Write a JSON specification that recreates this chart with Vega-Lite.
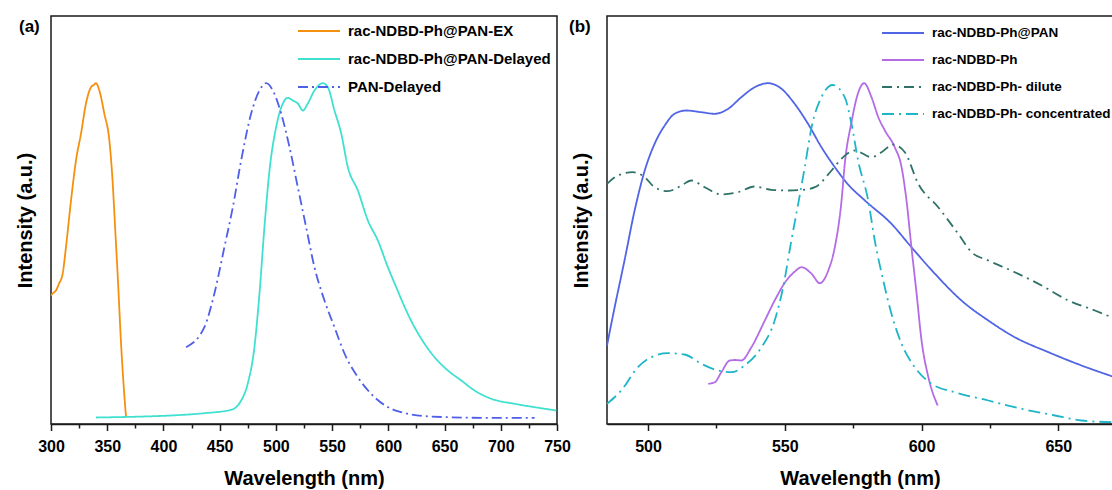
{
  "$schema": "https://vega.github.io/schema/vega-lite/v6.json",
  "padding": {"left": 14, "top": 15, "right": 0, "bottom": 0},
  "background": "white",
  "config": {
    "font": "Liberation Sans",
    "view": {"stroke": "#1a1a1a", "strokeWidth": 1.5},
    "axis": {
      "labelFont": "Liberation Sans", "labelFontWeight": "bold", "labelFontSize": 16, "labelColor": "#000",
      "titleFont": "Liberation Sans", "titleFontWeight": "bold", "titleFontSize": 20, "titleColor": "#000",
      "domainColor": "#1a1a1a", "domainWidth": 1.5, "tickColor": "#1a1a1a", "tickWidth": 1.5, "grid": false
    },
    "legend": {"labelFont": "Liberation Sans", "labelFontWeight": "bold", "labelFontSize": 15, "labelColor": "#000", "labelLimit": 0},
    "title": {"font": "Liberation Sans", "fontWeight": "bold", "fontSize": 17, "color": "#000"}
  },
  "datasets": {
    "a": [
      {"series": "rac-NDBD-Ph@PAN-EX", "wl": 300.0, "v": 128.5},
      {"series": "rac-NDBD-Ph@PAN-EX", "wl": 302.0, "v": 131},
      {"series": "rac-NDBD-Ph@PAN-EX", "wl": 304.4, "v": 133.5},
      {"series": "rac-NDBD-Ph@PAN-EX", "wl": 307.0, "v": 140},
      {"series": "rac-NDBD-Ph@PAN-EX", "wl": 310.4, "v": 150.5},
      {"series": "rac-NDBD-Ph@PAN-EX", "wl": 313.3, "v": 176.8},
      {"series": "rac-NDBD-Ph@PAN-EX", "wl": 317.8, "v": 223.5},
      {"series": "rac-NDBD-Ph@PAN-EX", "wl": 322.2, "v": 263.5},
      {"series": "rac-NDBD-Ph@PAN-EX", "wl": 326.7, "v": 290.5},
      {"series": "rac-NDBD-Ph@PAN-EX", "wl": 331.1, "v": 320.5},
      {"series": "rac-NDBD-Ph@PAN-EX", "wl": 335.6, "v": 336.8},
      {"series": "rac-NDBD-Ph@PAN-EX", "wl": 338.0, "v": 339},
      {"series": "rac-NDBD-Ph@PAN-EX", "wl": 340.0, "v": 340.8},
      {"series": "rac-NDBD-Ph@PAN-EX", "wl": 343.0, "v": 333.5},
      {"series": "rac-NDBD-Ph@PAN-EX", "wl": 347.4, "v": 310.5},
      {"series": "rac-NDBD-Ph@PAN-EX", "wl": 351.9, "v": 283.5},
      {"series": "rac-NDBD-Ph@PAN-EX", "wl": 354.9, "v": 240.5},
      {"series": "rac-NDBD-Ph@PAN-EX", "wl": 357.0, "v": 196.8},
      {"series": "rac-NDBD-Ph@PAN-EX", "wl": 359.4, "v": 146.8},
      {"series": "rac-NDBD-Ph@PAN-EX", "wl": 362.3, "v": 80.5},
      {"series": "rac-NDBD-Ph@PAN-EX", "wl": 364.7, "v": 36.8},
      {"series": "rac-NDBD-Ph@PAN-EX", "wl": 366.7, "v": 7.5},

      {"series": "rac-NDBD-Ph@PAN-Delayed", "wl": 340.0, "v": 6.5},
      {"series": "rac-NDBD-Ph@PAN-Delayed", "wl": 382.8, "v": 7.5},
      {"series": "rac-NDBD-Ph@PAN-Delayed", "wl": 406.8, "v": 8.5},
      {"series": "rac-NDBD-Ph@PAN-Delayed", "wl": 436.4, "v": 10.8},
      {"series": "rac-NDBD-Ph@PAN-Delayed", "wl": 460.2, "v": 14.2},
      {"series": "rac-NDBD-Ph@PAN-Delayed", "wl": 469.1, "v": 23.5},
      {"series": "rac-NDBD-Ph@PAN-Delayed", "wl": 475.0, "v": 40.5},
      {"series": "rac-NDBD-Ph@PAN-Delayed", "wl": 480.9, "v": 76.8},
      {"series": "rac-NDBD-Ph@PAN-Delayed", "wl": 485.4, "v": 130.5},
      {"series": "rac-NDBD-Ph@PAN-Delayed", "wl": 489.8, "v": 196.8},
      {"series": "rac-NDBD-Ph@PAN-Delayed", "wl": 494.3, "v": 253.5},
      {"series": "rac-NDBD-Ph@PAN-Delayed", "wl": 500.2, "v": 296.8},
      {"series": "rac-NDBD-Ph@PAN-Delayed", "wl": 506.2, "v": 320.5},
      {"series": "rac-NDBD-Ph@PAN-Delayed", "wl": 510.6, "v": 326.2},
      {"series": "rac-NDBD-Ph@PAN-Delayed", "wl": 515.1, "v": 323.5},
      {"series": "rac-NDBD-Ph@PAN-Delayed", "wl": 519.5, "v": 320.5},
      {"series": "rac-NDBD-Ph@PAN-Delayed", "wl": 524.0, "v": 313.5},
      {"series": "rac-NDBD-Ph@PAN-Delayed", "wl": 528.4, "v": 320.5},
      {"series": "rac-NDBD-Ph@PAN-Delayed", "wl": 534.3, "v": 333.5},
      {"series": "rac-NDBD-Ph@PAN-Delayed", "wl": 541.8, "v": 340.8},
      {"series": "rac-NDBD-Ph@PAN-Delayed", "wl": 546.2, "v": 336.8},
      {"series": "rac-NDBD-Ph@PAN-Delayed", "wl": 552.1, "v": 313.5},
      {"series": "rac-NDBD-Ph@PAN-Delayed", "wl": 558.1, "v": 290.5},
      {"series": "rac-NDBD-Ph@PAN-Delayed", "wl": 564.0, "v": 256.8},
      {"series": "rac-NDBD-Ph@PAN-Delayed", "wl": 572.9, "v": 233.5},
      {"series": "rac-NDBD-Ph@PAN-Delayed", "wl": 581.8, "v": 203.5},
      {"series": "rac-NDBD-Ph@PAN-Delayed", "wl": 590.7, "v": 183.5},
      {"series": "rac-NDBD-Ph@PAN-Delayed", "wl": 599.6, "v": 156.8},
      {"series": "rac-NDBD-Ph@PAN-Delayed", "wl": 607.0, "v": 136.8},
      {"series": "rac-NDBD-Ph@PAN-Delayed", "wl": 615.9, "v": 113.5},
      {"series": "rac-NDBD-Ph@PAN-Delayed", "wl": 623.3, "v": 96.8},
      {"series": "rac-NDBD-Ph@PAN-Delayed", "wl": 632.2, "v": 80.2},
      {"series": "rac-NDBD-Ph@PAN-Delayed", "wl": 641.1, "v": 66.8},
      {"series": "rac-NDBD-Ph@PAN-Delayed", "wl": 653.0, "v": 53.5},
      {"series": "rac-NDBD-Ph@PAN-Delayed", "wl": 664.9, "v": 43.5},
      {"series": "rac-NDBD-Ph@PAN-Delayed", "wl": 676.7, "v": 33.5},
      {"series": "rac-NDBD-Ph@PAN-Delayed", "wl": 691.6, "v": 25.2},
      {"series": "rac-NDBD-Ph@PAN-Delayed", "wl": 712.3, "v": 20.2},
      {"series": "rac-NDBD-Ph@PAN-Delayed", "wl": 730.1, "v": 16.8},
      {"series": "rac-NDBD-Ph@PAN-Delayed", "wl": 749.4, "v": 13.5},

      {"series": "PAN-Delayed", "wl": 420.1, "v": 76.8},
      {"series": "PAN-Delayed", "wl": 436.4, "v": 96.8},
      {"series": "PAN-Delayed", "wl": 445.3, "v": 130.5},
      {"series": "PAN-Delayed", "wl": 454.2, "v": 176.8},
      {"series": "PAN-Delayed", "wl": 461.7, "v": 216.8},
      {"series": "PAN-Delayed", "wl": 469.1, "v": 263.5},
      {"series": "PAN-Delayed", "wl": 478.0, "v": 310.5},
      {"series": "PAN-Delayed", "wl": 485.4, "v": 333.5},
      {"series": "PAN-Delayed", "wl": 491.3, "v": 340.8},
      {"series": "PAN-Delayed", "wl": 497.3, "v": 333.5},
      {"series": "PAN-Delayed", "wl": 504.7, "v": 310.5},
      {"series": "PAN-Delayed", "wl": 512.1, "v": 276.8},
      {"series": "PAN-Delayed", "wl": 519.5, "v": 236.8},
      {"series": "PAN-Delayed", "wl": 526.9, "v": 196.8},
      {"series": "PAN-Delayed", "wl": 534.3, "v": 156.8},
      {"series": "PAN-Delayed", "wl": 543.2, "v": 123.5},
      {"series": "PAN-Delayed", "wl": 552.1, "v": 96.8},
      {"series": "PAN-Delayed", "wl": 561.0, "v": 70.5},
      {"series": "PAN-Delayed", "wl": 572.9, "v": 46.8},
      {"series": "PAN-Delayed", "wl": 587.7, "v": 26.8},
      {"series": "PAN-Delayed", "wl": 602.6, "v": 15.2},
      {"series": "PAN-Delayed", "wl": 611.5, "v": 11.8},
      {"series": "PAN-Delayed", "wl": 638.2, "v": 7.5},
      {"series": "PAN-Delayed", "wl": 682.7, "v": 6.2},
      {"series": "PAN-Delayed", "wl": 730.1, "v": 6.2}
    ],
    "b": [
      {"series": "rac-NDBD-Ph@PAN", "wl": 485.0, "v": 78.5},
      {"series": "rac-NDBD-Ph@PAN", "wl": 487.8, "v": 116.8},
      {"series": "rac-NDBD-Ph@PAN", "wl": 491.4, "v": 163.5},
      {"series": "rac-NDBD-Ph@PAN", "wl": 495.1, "v": 213.5},
      {"series": "rac-NDBD-Ph@PAN", "wl": 498.8, "v": 253.5},
      {"series": "rac-NDBD-Ph@PAN", "wl": 502.4, "v": 280.2},
      {"series": "rac-NDBD-Ph@PAN", "wl": 506.1, "v": 298.5},
      {"series": "rac-NDBD-Ph@PAN", "wl": 509.7, "v": 310.2},
      {"series": "rac-NDBD-Ph@PAN", "wl": 514.0, "v": 313.5},
      {"series": "rac-NDBD-Ph@PAN", "wl": 519.5, "v": 311.8},
      {"series": "rac-NDBD-Ph@PAN", "wl": 524.4, "v": 310.2},
      {"series": "rac-NDBD-Ph@PAN", "wl": 529.3, "v": 315.2},
      {"series": "rac-NDBD-Ph@PAN", "wl": 534.1, "v": 326.8},
      {"series": "rac-NDBD-Ph@PAN", "wl": 539.0, "v": 336.8},
      {"series": "rac-NDBD-Ph@PAN", "wl": 543.9, "v": 340.8},
      {"series": "rac-NDBD-Ph@PAN", "wl": 548.8, "v": 335.2},
      {"series": "rac-NDBD-Ph@PAN", "wl": 553.6, "v": 320.2},
      {"series": "rac-NDBD-Ph@PAN", "wl": 558.5, "v": 300.2},
      {"series": "rac-NDBD-Ph@PAN", "wl": 563.4, "v": 276.8},
      {"series": "rac-NDBD-Ph@PAN", "wl": 568.3, "v": 256.8},
      {"series": "rac-NDBD-Ph@PAN", "wl": 573.0, "v": 240},
      {"series": "rac-NDBD-Ph@PAN", "wl": 579.3, "v": 223.5},
      {"series": "rac-NDBD-Ph@PAN", "wl": 589.0, "v": 200.2},
      {"series": "rac-NDBD-Ph@PAN", "wl": 596.3, "v": 176.8},
      {"series": "rac-NDBD-Ph@PAN", "wl": 604.9, "v": 150.2},
      {"series": "rac-NDBD-Ph@PAN", "wl": 614.6, "v": 123.5},
      {"series": "rac-NDBD-Ph@PAN", "wl": 624.4, "v": 103.5},
      {"series": "rac-NDBD-Ph@PAN", "wl": 634.1, "v": 86.8},
      {"series": "rac-NDBD-Ph@PAN", "wl": 646.4, "v": 71.8},
      {"series": "rac-NDBD-Ph@PAN", "wl": 658.5, "v": 58.5},
      {"series": "rac-NDBD-Ph@PAN", "wl": 669.9, "v": 47.5},

      {"series": "rac-NDBD-Ph", "wl": 522.0, "v": 40.2},
      {"series": "rac-NDBD-Ph", "wl": 524.4, "v": 41.8},
      {"series": "rac-NDBD-Ph", "wl": 526.8, "v": 51.8},
      {"series": "rac-NDBD-Ph", "wl": 529.9, "v": 63.5},
      {"series": "rac-NDBD-Ph", "wl": 532.0, "v": 64},
      {"series": "rac-NDBD-Ph", "wl": 534.1, "v": 63.5},
      {"series": "rac-NDBD-Ph", "wl": 537.8, "v": 76.8},
      {"series": "rac-NDBD-Ph", "wl": 542.7, "v": 103.5},
      {"series": "rac-NDBD-Ph", "wl": 546.3, "v": 123.5},
      {"series": "rac-NDBD-Ph", "wl": 550.6, "v": 143.5},
      {"series": "rac-NDBD-Ph", "wl": 553.5, "v": 152},
      {"series": "rac-NDBD-Ph", "wl": 556.1, "v": 156.8},
      {"series": "rac-NDBD-Ph", "wl": 559.8, "v": 150.2},
      {"series": "rac-NDBD-Ph", "wl": 562.8, "v": 140.8},
      {"series": "rac-NDBD-Ph", "wl": 565.9, "v": 153.5},
      {"series": "rac-NDBD-Ph", "wl": 568.3, "v": 176.8},
      {"series": "rac-NDBD-Ph", "wl": 570.7, "v": 222},
      {"series": "rac-NDBD-Ph", "wl": 572.0, "v": 262},
      {"series": "rac-NDBD-Ph", "wl": 574.4, "v": 302},
      {"series": "rac-NDBD-Ph", "wl": 576.8, "v": 331},
      {"series": "rac-NDBD-Ph", "wl": 579.0, "v": 340.8},
      {"series": "rac-NDBD-Ph", "wl": 581.7, "v": 326.8},
      {"series": "rac-NDBD-Ph", "wl": 584.2, "v": 306.8},
      {"series": "rac-NDBD-Ph", "wl": 586.6, "v": 293.5},
      {"series": "rac-NDBD-Ph", "wl": 590.2, "v": 276.8},
      {"series": "rac-NDBD-Ph", "wl": 592.7, "v": 256.8},
      {"series": "rac-NDBD-Ph", "wl": 594.5, "v": 223.5},
      {"series": "rac-NDBD-Ph", "wl": 596.3, "v": 176.8},
      {"series": "rac-NDBD-Ph", "wl": 598.2, "v": 130.2},
      {"series": "rac-NDBD-Ph", "wl": 600.0, "v": 83.5},
      {"series": "rac-NDBD-Ph", "wl": 602.5, "v": 46.8},
      {"series": "rac-NDBD-Ph", "wl": 605.9, "v": 18.5},

      {"series": "rac-NDBD-Ph- dilute", "wl": 485.0, "v": 240.2},
      {"series": "rac-NDBD-Ph- dilute", "wl": 489.0, "v": 248.5},
      {"series": "rac-NDBD-Ph- dilute", "wl": 494.5, "v": 251.8},
      {"series": "rac-NDBD-Ph- dilute", "wl": 498.8, "v": 246.8},
      {"series": "rac-NDBD-Ph- dilute", "wl": 502.4, "v": 236.8},
      {"series": "rac-NDBD-Ph- dilute", "wl": 507.3, "v": 232.8},
      {"series": "rac-NDBD-Ph- dilute", "wl": 512.2, "v": 238.5},
      {"series": "rac-NDBD-Ph- dilute", "wl": 515.8, "v": 243.5},
      {"series": "rac-NDBD-Ph- dilute", "wl": 520.7, "v": 236.8},
      {"series": "rac-NDBD-Ph- dilute", "wl": 526.8, "v": 229.5},
      {"series": "rac-NDBD-Ph- dilute", "wl": 532.9, "v": 231.8},
      {"series": "rac-NDBD-Ph- dilute", "wl": 539.0, "v": 237.5},
      {"series": "rac-NDBD-Ph- dilute", "wl": 545.1, "v": 234.2},
      {"series": "rac-NDBD-Ph- dilute", "wl": 551.2, "v": 233.5},
      {"series": "rac-NDBD-Ph- dilute", "wl": 556.0, "v": 234},
      {"series": "rac-NDBD-Ph- dilute", "wl": 561.0, "v": 236.8},
      {"series": "rac-NDBD-Ph- dilute", "wl": 567.1, "v": 253.5},
      {"series": "rac-NDBD-Ph- dilute", "wl": 570.7, "v": 265.2},
      {"series": "rac-NDBD-Ph- dilute", "wl": 575.6, "v": 273.5},
      {"series": "rac-NDBD-Ph- dilute", "wl": 581.7, "v": 266.8},
      {"series": "rac-NDBD-Ph- dilute", "wl": 585.5, "v": 272},
      {"series": "rac-NDBD-Ph- dilute", "wl": 589.6, "v": 279.5},
      {"series": "rac-NDBD-Ph- dilute", "wl": 593.9, "v": 271.8},
      {"series": "rac-NDBD-Ph- dilute", "wl": 598.8, "v": 240.2},
      {"series": "rac-NDBD-Ph- dilute", "wl": 606.1, "v": 216.8},
      {"series": "rac-NDBD-Ph- dilute", "wl": 613.4, "v": 190.2},
      {"series": "rac-NDBD-Ph- dilute", "wl": 618.3, "v": 171.8},
      {"series": "rac-NDBD-Ph- dilute", "wl": 624.4, "v": 163.5},
      {"series": "rac-NDBD-Ph- dilute", "wl": 634.1, "v": 151.8},
      {"series": "rac-NDBD-Ph- dilute", "wl": 643.9, "v": 138.5},
      {"series": "rac-NDBD-Ph- dilute", "wl": 653.7, "v": 123.5},
      {"series": "rac-NDBD-Ph- dilute", "wl": 663.4, "v": 113.5},
      {"series": "rac-NDBD-Ph- dilute", "wl": 669.9, "v": 106.2},

      {"series": "rac-NDBD-Ph- concentrated", "wl": 485.0, "v": 20.2},
      {"series": "rac-NDBD-Ph- concentrated", "wl": 490.2, "v": 33.5},
      {"series": "rac-NDBD-Ph- concentrated", "wl": 496.3, "v": 56.8},
      {"series": "rac-NDBD-Ph- concentrated", "wl": 501.2, "v": 66.8},
      {"series": "rac-NDBD-Ph- concentrated", "wl": 507.3, "v": 70.8},
      {"series": "rac-NDBD-Ph- concentrated", "wl": 513.4, "v": 69.5},
      {"series": "rac-NDBD-Ph- concentrated", "wl": 519.5, "v": 60.2},
      {"series": "rac-NDBD-Ph- concentrated", "wl": 525.6, "v": 53.5},
      {"series": "rac-NDBD-Ph- concentrated", "wl": 530.5, "v": 51.8},
      {"series": "rac-NDBD-Ph- concentrated", "wl": 535.3, "v": 58.5},
      {"series": "rac-NDBD-Ph- concentrated", "wl": 541.5, "v": 76.8},
      {"series": "rac-NDBD-Ph- concentrated", "wl": 546.3, "v": 103.5},
      {"series": "rac-NDBD-Ph- concentrated", "wl": 549.4, "v": 136.8},
      {"series": "rac-NDBD-Ph- concentrated", "wl": 552.4, "v": 183.5},
      {"series": "rac-NDBD-Ph- concentrated", "wl": 554.9, "v": 220.2},
      {"series": "rac-NDBD-Ph- concentrated", "wl": 557.3, "v": 256.8},
      {"series": "rac-NDBD-Ph- concentrated", "wl": 559.8, "v": 296.8},
      {"series": "rac-NDBD-Ph- concentrated", "wl": 563.4, "v": 326.8},
      {"series": "rac-NDBD-Ph- concentrated", "wl": 567.5, "v": 339},
      {"series": "rac-NDBD-Ph- concentrated", "wl": 571.9, "v": 326.8},
      {"series": "rac-NDBD-Ph- concentrated", "wl": 574.4, "v": 300},
      {"series": "rac-NDBD-Ph- concentrated", "wl": 576.8, "v": 263.5},
      {"series": "rac-NDBD-Ph- concentrated", "wl": 580.5, "v": 223.5},
      {"series": "rac-NDBD-Ph- concentrated", "wl": 582.9, "v": 183.5},
      {"series": "rac-NDBD-Ph- concentrated", "wl": 586.0, "v": 143.5},
      {"series": "rac-NDBD-Ph- concentrated", "wl": 589.0, "v": 110.2},
      {"series": "rac-NDBD-Ph- concentrated", "wl": 592.7, "v": 80.2},
      {"series": "rac-NDBD-Ph- concentrated", "wl": 597.5, "v": 56.8},
      {"series": "rac-NDBD-Ph- concentrated", "wl": 603.7, "v": 40.2},
      {"series": "rac-NDBD-Ph- concentrated", "wl": 612.2, "v": 31.8},
      {"series": "rac-NDBD-Ph- concentrated", "wl": 624.4, "v": 23.5},
      {"series": "rac-NDBD-Ph- concentrated", "wl": 636.6, "v": 15.2},
      {"series": "rac-NDBD-Ph- concentrated", "wl": 648.8, "v": 8.5},
      {"series": "rac-NDBD-Ph- concentrated", "wl": 658.5, "v": 3.5},
      {"series": "rac-NDBD-Ph- concentrated", "wl": 669.9, "v": 1.8}
    ]
  },
  "bounds": "flush",
  "spacing": 50,
  "hconcat": [
    {
      "width": 506,
      "height": 408,
      "data": {"name": "a"},
      "title": {"text": "(a)", "anchor": "start", "frame": "group", "orient": "top", "baseline": "top", "offset": -20, "dx": -32},
      "resolve": {"axis": {"x": "independent"}},
      "layer": [
        {
          "mark": {"type": "line", "strokeWidth": 1.8, "interpolate": "monotone"},
          "encoding": {
            "x": {"field": "wl", "type": "quantitative", "scale": {"domain": [300, 750], "nice": false, "zero": false},
                  "axis": {"orient": "bottom", "title": "Wavelength (nm)", "values": [300, 350, 400, 450, 500, 550, 600, 650, 700, 750], "tickSize": 6.5, "labelPadding": 8, "titlePadding": 14, "labelFlush": false, "labelOverlap": false}},
            "y": {"field": "v", "type": "quantitative", "scale": {"domain": [0, 408], "nice": false},
                  "axis": {"title": "Intensity (a.u.)", "labels": false, "ticks": false, "domain": false, "titlePadding": 16}},
            "color": {"field": "series", "type": "nominal",
                      "scale": {"domain": ["rac-NDBD-Ph@PAN-EX", "rac-NDBD-Ph@PAN-Delayed", "PAN-Delayed"], "range": ["#F5900F", "#40E0D0", "#4F5FE8"]},
                      "legend": {"orient": "none", "legendX": 246, "legendY": 7, "title": null, "symbolType": "stroke", "symbolSize": 1764, "symbolStrokeWidth": 2, "clipHeight": 16, "rowPadding": 12, "labelOffset": 7, "padding": 0, "labelLimit": 0}},
            "strokeDash": {"field": "series", "type": "nominal",
                      "scale": {"domain": ["rac-NDBD-Ph@PAN-EX", "rac-NDBD-Ph@PAN-Delayed", "PAN-Delayed"], "range": [[1, 0], [1, 0], [10, 4, 2, 4]]},
                      "legend": {"orient": "none", "legendX": 246, "legendY": 7, "title": null, "symbolType": "stroke", "symbolSize": 1764, "symbolStrokeWidth": 2, "clipHeight": 16, "rowPadding": 12, "labelOffset": 7, "padding": 0, "labelLimit": 0}}
          }
        },
        {
          "mark": {"type": "line", "opacity": 0},
          "encoding": {
            "x": {"field": "wl", "type": "quantitative", "scale": {"domain": [300, 750], "nice": false, "zero": false},
                  "axis": {"orient": "bottom", "title": null, "labels": false, "domain": false, "values": [325, 375, 425, 475, 525, 575, 625, 675, 725], "tickSize": 4}},
            "y": {"field": "v", "type": "quantitative", "scale": {"domain": [0, 408], "nice": false}}
          }
        }
      ]
    },
    {
      "width": 506,
      "height": 408,
      "data": {"name": "b"},
      "title": {"text": "(b)", "anchor": "start", "frame": "group", "orient": "top", "baseline": "top", "offset": -20, "dx": -38},
      "resolve": {"axis": {"x": "independent"}},
      "layer": [
        {
          "mark": {"type": "line", "strokeWidth": 1.8, "interpolate": "monotone"},
          "encoding": {
            "x": {"field": "wl", "type": "quantitative", "scale": {"domain": [485, 670], "nice": false, "zero": false},
                  "axis": {"orient": "bottom", "title": "Wavelength (nm)", "values": [500, 550, 600, 650], "tickSize": 6.5, "labelPadding": 8, "titlePadding": 14, "labelFlush": false}},
            "y": {"field": "v", "type": "quantitative", "scale": {"domain": [0, 408], "nice": false},
                  "axis": {"title": "Intensity (a.u.)", "labels": false, "ticks": false, "domain": false, "titlePadding": 16}},
            "color": {"field": "series", "type": "nominal",
                      "scale": {"domain": ["rac-NDBD-Ph@PAN", "rac-NDBD-Ph", "rac-NDBD-Ph- dilute", "rac-NDBD-Ph- concentrated"], "range": ["#5064E6", "#B36BE6", "#2F7268", "#1FB5C8"]},
                      "legend": {"orient": "none", "legendX": 274, "legendY": 9, "title": null, "symbolType": "stroke", "symbolSize": 1764, "symbolStrokeWidth": 2, "clipHeight": 16, "rowPadding": 11, "labelOffset": 7, "padding": 0, "labelLimit": 0, "labelFontSize": 13.5}},
            "strokeDash": {"field": "series", "type": "nominal",
                      "scale": {"domain": ["rac-NDBD-Ph@PAN", "rac-NDBD-Ph", "rac-NDBD-Ph- dilute", "rac-NDBD-Ph- concentrated"], "range": [[1, 0], [1, 0], [10, 5, 2, 5], [12, 5, 2, 5]]},
                      "legend": {"orient": "none", "legendX": 274, "legendY": 9, "title": null, "symbolType": "stroke", "symbolSize": 1764, "symbolStrokeWidth": 2, "clipHeight": 16, "rowPadding": 11, "labelOffset": 7, "padding": 0, "labelLimit": 0, "labelFontSize": 13.5}}
          }
        },
        {
          "mark": {"type": "line", "opacity": 0},
          "encoding": {
            "x": {"field": "wl", "type": "quantitative", "scale": {"domain": [485, 670], "nice": false, "zero": false},
                  "axis": {"orient": "bottom", "title": null, "labels": false, "domain": false, "values": [525, 575, 625], "tickSize": 4}},
            "y": {"field": "v", "type": "quantitative", "scale": {"domain": [0, 408], "nice": false}}
          }
        }
      ]
    }
  ],
  "resolve": {"scale": {"color": "independent", "strokeDash": "independent", "x": "independent"}}
}
